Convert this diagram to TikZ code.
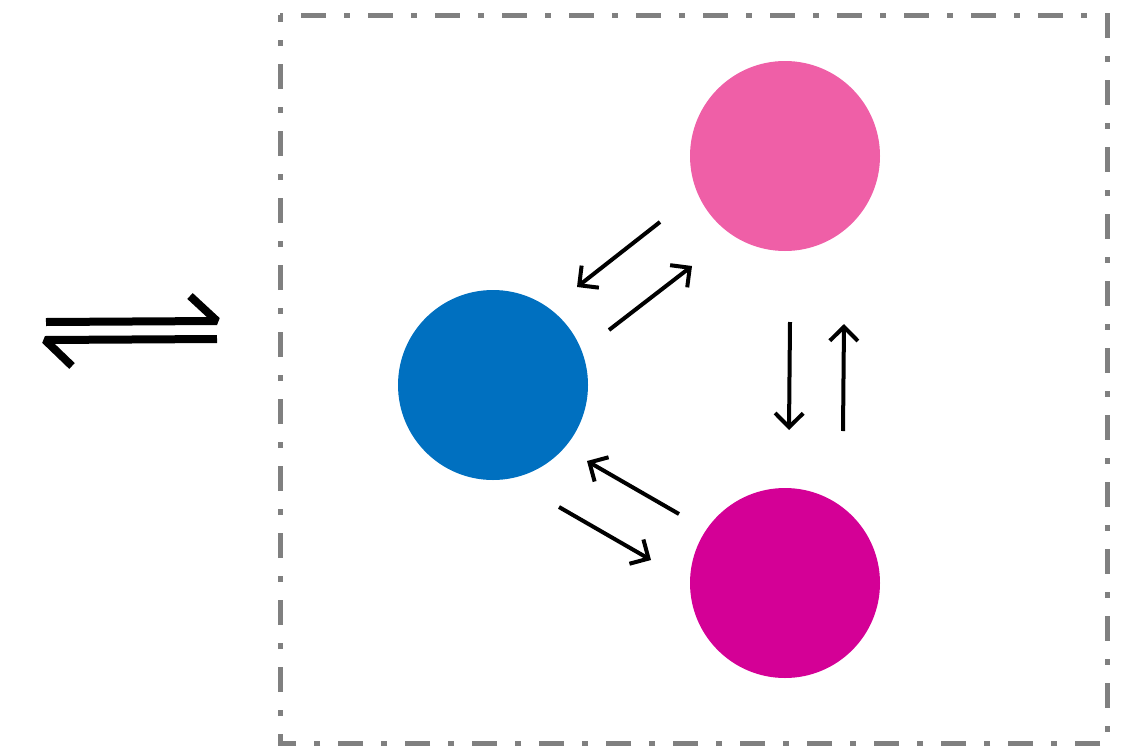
\documentclass[tikz,border=0pt]{standalone}
\usetikzlibrary{arrows.meta}
\definecolor{pinkc}{HTML}{EF5FA7}
\definecolor{bluec}{HTML}{0070C0}
\definecolor{magc}{HTML}{D40096}
\definecolor{boxgray}{HTML}{808080}
\begin{document}
\begin{tikzpicture}[x=1pt,y=-1pt,
  ball/.style={circle,minimum size=190pt,inner sep=0pt,draw=none},
  conn/.style={line width=4pt,-{Straight Barb[length=14pt,width=28pt,line width=4pt]}},
  harp/.style={line width=8pt,line join=bevel}]
\useasboundingbox (0,0) rectangle (1132,747);
\draw[boxgray,line width=5pt,dash pattern=on 25pt off 18pt on 6pt off 18pt,dash phase=46pt]
  (280,15) -- (1107,15) -- (1107,743) -- (280,743) -- cycle;
\node[ball,fill=pinkc] (pink) at (785,156) {};
\node[ball,fill=bluec] (blue) at (493,385) {};
\node[ball,fill=magc] (mag) at (785,583) {};
% arrow endpoints
\coordinate (a1s) at (660,222); \coordinate (a1e) at (577,287);
\coordinate (a2s) at (609,330); \coordinate (a2e) at (692,266);
\coordinate (a3s) at (790,322); \coordinate (a3e) at (789,430);
\coordinate (a4s) at (843,431); \coordinate (a4e) at (844,324);
\coordinate (a5s) at (679,514); \coordinate (a5e) at (587,461);
\coordinate (a6s) at (559,507); \coordinate (a6e) at (651,560);
\draw[conn] (a1s) -- (a1e);
\draw[conn] (a2s) -- (a2e);
\draw[conn] (a3s) -- (a3e);
\draw[conn] (a4s) -- (a4e);
\draw[conn] (a5s) -- (a5e);
\draw[conn] (a6s) -- (a6e);
% equilibrium harpoons
\coordinate (h1a) at (46,322); \coordinate (h1b) at (217,321); \coordinate (h1c) at (190,296);
\coordinate (h2a) at (217,339); \coordinate (h2b) at (45,340); \coordinate (h2c) at (72,366);
\draw[harp] (h1a) -- (h1b) -- (h1c);
\draw[harp] (h2a) -- (h2b) -- (h2c);
\end{tikzpicture}
\end{document}
